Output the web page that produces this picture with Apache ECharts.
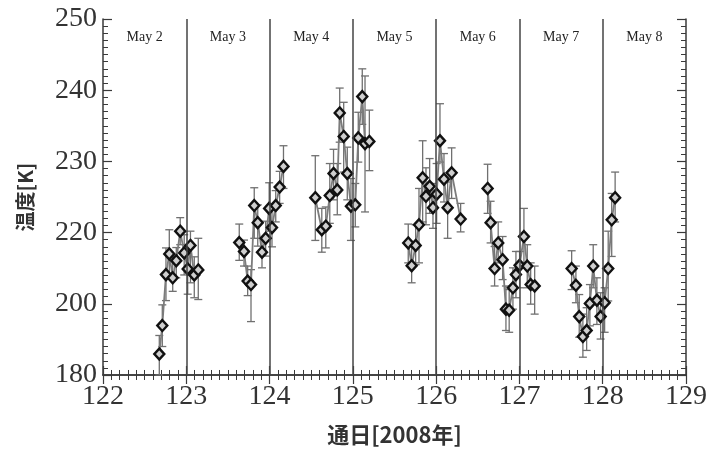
<!DOCTYPE html>
<html>
<head>
<meta charset="utf-8">
<script src="https://cdn.jsdelivr.net/npm/echarts@6/dist/echarts.min.js"></script>
<style>
  html, body { margin: 0; background: #fff; }
  #chart { width: 714px; height: 451px; }
</style>
</head>
<body>
<div id="chart"></div>
<script>
// day of year 2008 (通日) of each retrieval
var dayOfYear = [
  122.676, 122.712, 122.756, 122.796, 122.837, 122.88, 122.927, 122.975, 123.017, 123.05, 123.096, 123.144,
  123.636, 123.693, 123.737, 123.777, 123.816, 123.858, 123.909, 123.953, 123.995, 124.029, 124.074, 124.121, 124.167,
  124.549, 124.627, 124.675, 124.723, 124.768, 124.813, 124.842, 124.89, 124.933, 124.977, 125.029, 125.065, 125.113, 125.146, 125.198,
  125.665, 125.706, 125.754, 125.794, 125.838, 125.878, 125.922, 125.962, 126.006, 126.046, 126.094, 126.138, 126.186, 126.294,
  126.618, 126.654, 126.702, 126.745, 126.798, 126.838, 126.877, 126.922, 126.958, 127.002, 127.054, 127.094, 127.135, 127.183,
  127.627, 127.678, 127.718, 127.762, 127.807, 127.846, 127.886, 127.93, 127.975, 128.023, 128.066, 128.108, 128.149
]
// temperature [K]
var tempK = [
  185.9, 193.9, 208.2, 214.0, 207.3, 212.1, 220.2, 214.3, 209.8, 216.4, 208.1, 209.5,
  217.2, 214.7, 206.4, 205.4, 223.8, 221.4, 214.5, 218.4, 223.4, 220.7, 223.8, 226.4, 229.3,
  224.9, 220.4, 220.9, 225.2, 228.3, 226.0, 236.8, 233.5, 228.3, 223.7, 223.9, 233.3, 239.1, 232.5, 232.8,
  217.1, 210.7, 216.4, 221.1, 227.7, 225.1, 226.5, 223.5, 225.4, 232.9, 227.5, 223.5, 228.4, 221.9,
  226.2, 221.4, 209.9, 217.1, 212.4, 198.5, 198.2, 204.5, 208.2, 210.8, 218.9, 210.6, 205.4, 205.0,
  209.9, 205.2, 196.4, 190.8, 192.5, 200.1, 210.6, 201.0, 196.4, 200.3, 209.9, 221.8, 224.9
]
var tempLow = [
  180.0, 188.0, 200.9, 207.0, 203.5, 207.3, 216.6, 208.1, 202.7, 205.9, 201.7, 201.2,
  212.2, 210.6, 202.3, 195.0, 218.4, 216.2, 210.1, 213.4, 220.2, 216.0, 221.5, 224.1, 226.2,
  217.8, 214.5, 215.7, 221.3, 224.6, 222.5, 232.7, 228.5, 224.6, 217.8, 220.8, 229.9, 235.2, 222.9, 228.7,
  211.5, 205.9, 211.0, 211.5, 221.5, 221.1, 222.7, 220.6, 221.3, 229.9, 224.3, 218.4, 224.8, 220.1,
  222.7, 217.1, 205.0, 211.5, 206.8, 192.5, 192.0, 198.5, 201.7, 204.5, 211.0, 204.5, 199.9, 197.1,
  204.0, 200.3, 190.6, 185.0, 186.9, 193.8, 204.5, 194.2, 190.1, 192.0, 200.8, 213.3, 221.5
]
var tempHigh = [
  191.1, 199.7, 215.7, 220.4, 213.4, 215.8, 222.1, 219.4, 215.0, 220.2, 213.2, 218.4,
  221.2, 217.9, 210.6, 209.6, 226.3, 223.9, 218.4, 221.6, 227.0, 223.2, 225.9, 228.6, 232.2,
  230.8, 223.4, 223.6, 229.7, 231.7, 229.7, 240.3, 238.3, 232.0, 227.6, 226.9, 236.9, 243.0, 242.0, 237.2,
  221.2, 216.4, 221.1, 226.2, 232.9, 229.1, 230.4, 226.9, 229.7, 238.1, 231.1, 227.1, 231.9, 224.1,
  229.6, 224.4, 216.1, 221.5, 218.9, 205.0, 204.0, 210.1, 214.7, 214.7, 223.4, 216.6, 211.5, 210.6,
  214.9, 210.6, 202.6, 197.1, 198.9, 205.4, 216.6, 207.3, 203.1, 204.5, 220.2, 225.5, 228.5
]
// index where a new observing pass starts (line is broken there)
var passStart = [12, 25, 40, 54, 68]

// the y axis of the original figure has evenly spaced ticks with these labels
var yTickValues = [180, 200, 220, 230, 240, 250]
var dayStarts = [122, 123, 124, 125, 126, 127, 128]
var dayNames = ['May 2', 'May 3', 'May 4', 'May 5', 'May 6', 'May 7', 'May 8']

// temperature -> position on the (piecewise) y axis
function toAxis(k) {
  for (var i = 0; i < yTickValues.length - 1; i++) {
    var a = yTickValues[i]
    var b = yTickValues[i + 1]
    if (k <= b || i === yTickValues.length - 2) {
      return i + (k - a) / (b - a)
    }
  }
}

var lineData = []
var errData = []
dayOfYear.forEach(function(d, i) {
  if (passStart.indexOf(i) >= 0) {
    lineData.push([d, '-'])
  }
  lineData.push([d, toAxis(tempK[i])])
  errData.push([d, toAxis(tempLow[i]), toAxis(tempHigh[i])])
})

var axisColor = '#3a3a3a'
var serif = 'Liberation Serif'

function frameAxis(extra) {
  var base = {
    type: 'value',
    axisLine: { show: true, lineStyle: { color: axisColor, width: 1.5 } },
    axisTick: { show: true, inside: true, length: 9, lineStyle: { color: axisColor, width: 1.2 } },
    minorTick: { show: true, splitNumber: 10, length: 5, lineStyle: { color: axisColor, width: 1 } },
    splitLine: { show: false },
    minorSplitLine: { show: false }
  }
  return Object.assign(base, extra)
}

var chart = echarts.init(document.getElementById('chart'))
chart.setOption({
  animation: false,
  backgroundColor: '#fff',
  grid: { left: 103, right: 28, top: 19, bottom: 73 },
  xAxis: [
    frameAxis({
      min: 122, max: 129, interval: 1,
      axisLabel: { fontFamily: serif, fontSize: 28, color: '#333', margin: 8 },
      name: '通日[2008年]',
      nameLocation: 'middle',
      nameGap: 49,
      nameTextStyle: { fontFamily: 'Noto Sans CJK JP', fontWeight: 'bold', fontSize: 22, color: '#333' }
    }),
    frameAxis({ min: 122, max: 129, interval: 1, position: 'top', axisLabel: { show: false } })
  ],
  yAxis: [
    frameAxis({
      min: 0, max: 5, interval: 1,
      axisLabel: {
        fontFamily: serif, fontSize: 28, color: '#333', margin: 6,
        formatter: function(v) { return yTickValues[v] }
      },
      name: '温度[K]',
      nameLocation: 'middle',
      nameRotate: 90,
      nameGap: 68,
      nameTextStyle: { fontFamily: 'Noto Sans CJK JP', fontWeight: 'bold', fontSize: 20, color: '#333' }
    }),
    frameAxis({ min: 0, max: 5, interval: 1, position: 'right', axisLabel: { show: false } })
  ],
  series: [
    {
      type: 'custom',
      name: 'err',
      z: 2,
      data: errData,
      encode: { x: 0, y: [1, 2] },
      renderItem: function(params, api) {
        var x = api.value(0)
        var lo = api.coord([x, api.value(1)])
        var hi = api.coord([x, api.value(2)])
        var w = 4
        var style = { stroke: '#707070', lineWidth: 1.3 }
        return {
          type: 'group',
          children: [
            { type: 'line', shape: { x1: lo[0], y1: lo[1], x2: hi[0], y2: hi[1] }, style: style },
            { type: 'line', shape: { x1: lo[0] - w, y1: lo[1], x2: lo[0] + w, y2: lo[1] }, style: style },
            { type: 'line', shape: { x1: hi[0] - w, y1: hi[1], x2: hi[0] + w, y2: hi[1] }, style: style }
          ]
        }
      }
    },
    {
      type: 'line',
      name: 'temp',
      z: 3,
      data: lineData,
      connectNulls: false,
      symbol: 'diamond',
      symbolSize: [10, 11],
      showSymbol: true,
      lineStyle: { color: '#7c7c7c', width: 1.8 },
      itemStyle: { color: '#cfcfcf', borderColor: '#111', borderWidth: 2.4 },
      markLine: {
        silent: true,
        symbol: 'none',
        label: { show: false },
        lineStyle: { color: '#444', width: 1.5, type: 'solid' },
        data: dayStarts.slice(1).map(function(d) { return { xAxis: d } })
      },
      markArea: {
        silent: true,
        itemStyle: { color: 'rgba(0,0,0,0)' },
        label: { show: true, position: 'insideTop', distance: 11, fontFamily: serif, fontSize: 14, color: '#222' },
        data: dayStarts.map(function(d, i) {
          return [{ name: dayNames[i], xAxis: d }, { xAxis: d + 1 }]
        })
      }
    }
  ]
})
</script>
</body>
</html>
